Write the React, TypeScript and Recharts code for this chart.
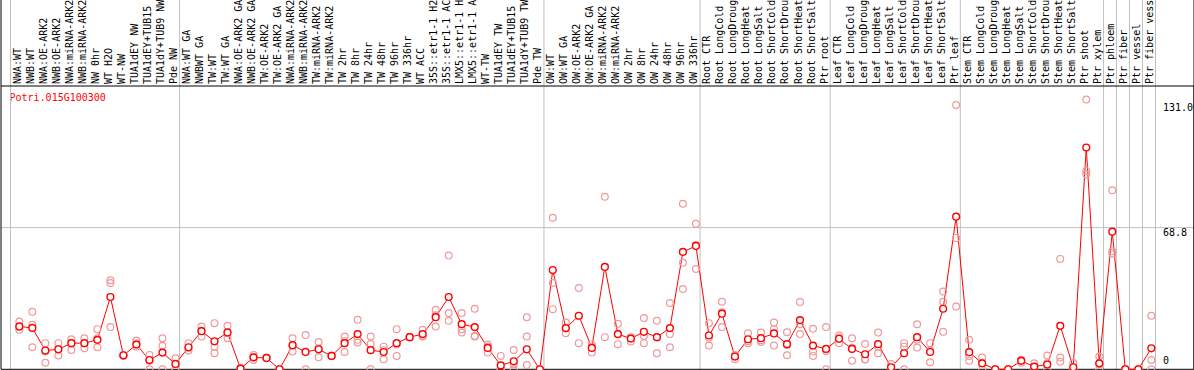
import React from 'react';
import { ComposedChart, Line, Scatter, XAxis, YAxis, ReferenceLine } from 'recharts';

const GENE = 'Potri.015G100300';

const categories = [
  'NWA:WT', 'NWB:WT', 'NWA:OE-ARK2', 'NWB:OE-ARK2', 'NWA:miRNA-ARK2', 'NWB:miRNA-ARK2', 'NW 0hr', 'WT H2O',
  'WT-NW', 'TUA1dEY NW', 'TUA1dEY+TUB15 NW', 'TUA1dY+TUB9 NW', 'Pde NW',
  'NWA:WT GA', 'NWBWT GA', 'TW:WT', 'TW:WT GA', 'NWA:OE-ARK2 GA', 'NWB:OE-ARK2 GA', 'TW:OE-ARK2', 'TW:OE-ARK2 GA',
  'NWA:miRNA-ARK2 GA', 'NWB:miRNA-ARK2 GA', 'TW:miRNA-ARK2', 'TW:miRNA-ARK2 GA', 'TW 2hr', 'TW 8hr', 'TW 24hr',
  'TW 48hr', 'TW 96hr', 'TW 336hr', 'WT ACC', '35S::etr1-1 H2O', '35S::etr1-1 ACC', 'LMX5::etr1-1 H2O',
  'LMX5::etr1-1 ACC', 'WT-TW', 'TUA1dEY TW', 'TUA1dEY+TUB15 TW', 'TUA1dY+TUB9 TW', 'Pde TW',
  'OW:WT', 'OW:WT GA', 'OW:OE-ARK2', 'OW:OE-ARK2 GA', 'OW:miRNA-ARK2', 'OW:miRNA-ARK2 GA', 'OW 2hr', 'OW 8hr',
  'OW 24hr', 'OW 48hr', 'OW 96hr', 'OW 336hr',
  'Root CTR', 'Root LongCold', 'Root LongDrought', 'Root LongHeat', 'Root LongSalt', 'Root ShortCold',
  'Root ShortDrought', 'Root ShortHeat', 'Root ShortSalt', 'Ptr root',
  'Leaf CTR', 'Leaf LongCold', 'Leaf LongDrought', 'Leaf LongHeat', 'Leaf LongSalt', 'Leaf ShortCold',
  'Leaf ShortDrought', 'Leaf ShortHeat', 'Leaf ShortSalt', 'Ptr leaf',
  'Stem CTR', 'Stem LongCold', 'Stem LongDrought', 'Stem LongHeat', 'Stem LongSalt', 'Stem ShortCold',
  'Stem ShortDrought', 'Stem ShortHeat', 'Stem ShortSalt', 'Ptr shoot', 'Ptr xylem',
  'Ptr phloem', 'Ptr fiber', 'Ptr vessel', 'Ptr fiber vessel',
];

// mean expression per sample
const means = [
  20.8, 20.1, 9.1, 9.7, 12.7, 12.7, 14.3, 35.1, 6.8, 12.0, 4.5, 8.1, 2.6,
  10.7, 18.5, 13.6, 17.9, 0.3, 5.8, 5.5, 0, 11.7, 8.4, 9.7, 6.5, 12.7, 17.1, 9.3, 8.4, 12.7, 15.6, 17.1,
  25.3, 35.1, 21.9, 20.5, 10.4, 1.9, 3.9, 9.7, 0,
  48.2, 20.0, 26.0, 10.4, 49.7, 17.1, 14.9, 18.2, 15.6, 20.0, 57.0, 59.9,
  16.4, 27.0, 6.2, 14.6, 15.1, 17.4, 12.2, 23.9, 11.5, 9.9,
  14.8, 9.9, 7.3, 12.2, 1.0, 7.8, 15.6, 8.4, 29.4, 74.1,
  8.3, 2.9, 0, 0, 4.1, 1.3, 2.3, 21.1, 1.0, 107.7, 2.9,
  66.8, 0, 0, 10.2,
];

// replicates
const rep1 = [
  23.2, 27.9, 12.7, 12.7, 14.6, 15.1, 19.5, 43.2, 7.0, 14.0, 7.0, 15.1, 5.4,
  12.7, 20.8, 22.4, 21.1, 0, 7.0, 5.4, 0, 15.1, 16.6, 13.2, 6.5, 15.9, 24.0, 15.9, 11.0, 19.5, 15.6, 19.2,
  28.9, 55.2, 27.3, 29.4, 12.0, 6.5, 9.4, 25.3, 0,
  73.6, 22.7, 39.5, 11.0, 83.8, 22.1, 15.6, 24.9, 23.6, 32.2, 80.4, 70.7,
  22.4, 32.8, 6.7, 17.5, 17.9, 22.7, 18.0, 32.7, 19.7, 20.5,
  16.4, 15.1, 12.3, 17.9, 2.6, 12.7, 21.9, 12.7, 37.8, 128.3,
  14.3, 5.7, 0, 0, 4.5, 2.9, 6.7, 53.6, 3.2, 131.0, 6.2,
  86.9, 0, 0, 26.0,
];
const rep2 = [
  20.5, 21.6, 8.6, 9.7, 12.7, 12.7, 15.1, 41.9, 6.7, 12.7, 4.2, 11.4, 0,
  9.1, 15.9, 11.0, 15.1, 0, 4.5, 5.6, 0, 8.6, 0, 5.8, 6.3, 8.4, 13.0, 12.3, 4.9, 6.5, 15.4, 15.9,
  20.8, 27.3, 19.5, 15.9, 8.1, 0, 0, 15.9, 0,
  41.9, 17.5, 12.7, 8.1, 15.6, 12.2, 13.5, 16.2, 7.8, 17.1, 51.7, 48.7,
  11.5, 20.5, 4.9, 12.7, 13.3, 19.5, 6.8, 17.1, 8.6, 8.9,
  12.7, 4.1, 4.9, 7.8, 0, 11.0, 10.6, 3.4, 32.8, 63.8,
  4.2, 3.2, 0, 0, 3.2, 0.5, 2.9, 5.7, 0, 96.3, 2.5,
  57.3, 0, 0, 4.5,
];
const rep3 = [
  19.2, 10.7, 3.2, 6.7, 9.4, 10.2, 10.7, 20.5, 6.5, 11.0, 0, 0, 0,
  10.4, 18.8, 7.8, 17.5, 0.8, 5.8, 5.5, 0, 11.4, 8.6, 10.1, 6.7, 13.8, 14.3, 0, 9.3, 12.1, 15.8, 16.2,
  26.2, 23.6, 17.9, 16.2, 11.1, 0, 2.3, 2.1, 0,
  29.2, 19.8, 25.8, 12.1, 49.7, 17.0, 15.6, 12.7, 15.4, 10.7, 39.0, 60.3,
  15.3, 27.7, 7.0, 13.6, 14.1, 11.5, 11.8, 21.9, 6.5, 0,
  15.3, 10.5, 4.7, 10.9, 0.4, 0, 14.3, 9.1, 18.2, 30.5,
  6.4, 0, 0, 0, 4.6, 0.5, 0, 3.7, 0, 94.7, 0,
  56.2, 0, 0, 0,
];

// first sample of each block, grey separators sit just left of these
const groupStarts = [0, 13, 41, 53, 63, 73, 84, 85, 86, 87, 88];
const yTicks = [0, 68.8, 131.0];

const Y_MAX = 137.55;
const Y_EXT = 180;
const X_DOMAIN: [number, number] = [-1.408, 90.28];
const FONT = '"DejaVu Sans Mono", monospace';
const GRID = '#c0c0c0';
const VALUE_LABEL_X = 1163;

const rows = categories.map((name, i) => ({ idx: i, name, mean: means[i] }));
const repPoints = [rep1, rep2, rep3].flatMap(r => r.map((v, i) => ({ idx: i, value: v })));

const tickDy: Record<string, number> = { '0': -5, '68.8': 8, '131': 12 };

const SampleTick = (props: any) => {
  const { x, payload } = props;
  return <text x={x + 1.5} y={84} transform={`rotate(-90 ${x + 1.5} 84)`} fontFamily={FONT} fontSize={10} fill="#000" textAnchor="start">
      {categories[payload.value]}
    </text>;
};

const ValueTick = (props: any) => {
  const { y, payload } = props;
  const v = payload.value;
  return <text x={VALUE_LABEL_X} y={y + (tickDy[String(v)] ?? 0)} fontFamily={FONT} fontSize={10} fill="#000" textAnchor="start">
      {v === 0 ? '0' : v.toFixed(1)}
    </text>;
};

const RepDot = (props: any) => <circle cx={props.cx} cy={props.cy} r={3.4} fill="none" stroke="#ee9a9a" strokeWidth={1.2} />;

const App = () => {
  return <div style={{ position: 'absolute', left: 0, top: 0, width: 1194, height: 370, background: '#fff' }}>
      <ComposedChart width={1194} height={370} data={rows} margin={{ top: 0, right: 0, bottom: 0.7, left: 1 }}>
        <XAxis type="number" dataKey="idx" orientation="top" height={86} domain={X_DOMAIN} ticks={rows.map(r => r.idx)} interval={0} tick={<SampleTick />} tickLine={false} axisLine={{ stroke: '#000' }} />
        <YAxis type="number" orientation="right" mirror width={1} domain={[0, Y_MAX]} ticks={yTicks} interval={0} tick={<ValueTick />} tickLine={false} axisLine={{ stroke: '#000' }} />
        <ReferenceLine y={68.8} stroke={GRID} />
        {groupStarts.map(g => <ReferenceLine key={g} segment={[{ x: g - 0.68, y: 0 }, { x: g - 0.68, y: Y_EXT }]} stroke={GRID} ifOverflow="visible" />)}
        <ReferenceLine segment={[{ x: X_DOMAIN[0], y: 0 }, { x: X_DOMAIN[0], y: Y_EXT }]} stroke="#000" ifOverflow="visible" />
        <ReferenceLine segment={[{ x: X_DOMAIN[1], y: 0 }, { x: X_DOMAIN[1], y: Y_EXT }]} stroke="#000" ifOverflow="visible" />
        <ReferenceLine y={0} stroke="#000" />
        <Scatter data={repPoints} dataKey="value" shape={<RepDot />} isAnimationActive={false} />
        <Line dataKey="mean" stroke="#ff0000" strokeWidth={1} dot={{ r: 3.4, fill: '#fff', stroke: '#ff0000', strokeWidth: 1.4 }} isAnimationActive={false} />
        <text x={9.5} y={100.5} fontFamily={FONT} fontSize={10} fill="#ff0000">{GENE}</text>
      </ComposedChart>
    </div>;
};

export default App;
